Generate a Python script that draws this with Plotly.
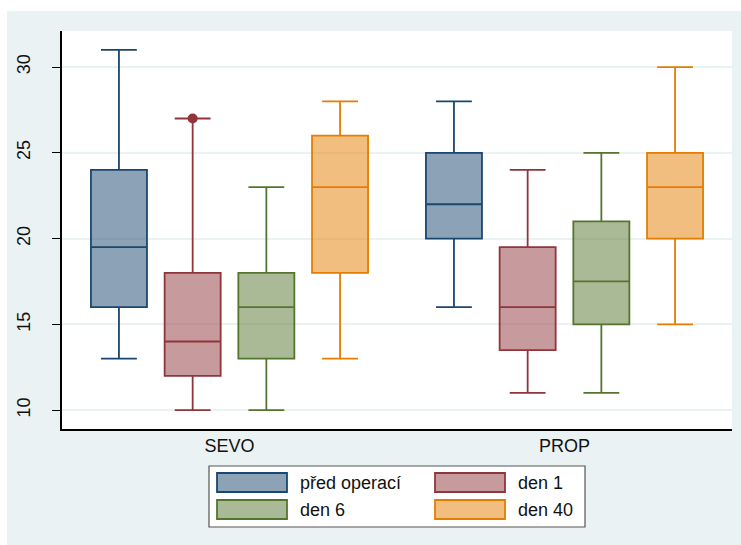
import plotly.graph_objects as go

# Box statistics per time point (groups: SEVO, PROP)
groups = ["SEVO", "PROP"]
series = ["před operací", "den 1", "den 6", "den 40"]

lower = {
    "před operací": [13, 16],
    "den 1": [10, 11],
    "den 6": [10, 11],
    "den 40": [13, 15],
}
q1 = {
    "před operací": [16, 20],
    "den 1": [12, 13.5],
    "den 6": [13, 15],
    "den 40": [18, 20],
}
median = {
    "před operací": [19.5, 22],
    "den 1": [14, 16],
    "den 6": [16, 17.5],
    "den 40": [23, 23],
}
q3 = {
    "před operací": [24, 25],
    "den 1": [18, 19.5],
    "den 6": [18, 21],
    "den 40": [26, 25],
}
upper = {
    "před operací": [31, 28],
    "den 1": [27, 24],
    "den 6": [23, 25],
    "den 40": [28, 30],
}
# outside values: (series, group index, value)
outliers = [("den 1", 0, 27)]

line_colors = {
    "před operací": "#1A476F",
    "den 1": "#90353B",
    "den 6": "#55752F",
    "den 40": "#E37E00",
}


def rgba(hex_color, a):
    h = hex_color.lstrip("#")
    r, g, b = int(h[0:2], 16), int(h[2:4], 16), int(h[4:6], 16)
    return f"rgba({r},{g},{b},{a})"


BOXGAP = 0.12
BOXGROUPGAP = 0.24
BG = "#EAF2F3"
FONT = "Liberation Sans, Arial, sans-serif"

fig = go.Figure()
xpos = list(range(len(groups)))
for s in series:
    c = line_colors[s]
    fig.add_trace(go.Box(
        name=s,
        x=xpos,
        q1=q1[s], median=median[s], q3=q3[s],
        lowerfence=lower[s], upperfence=upper[s],
        line=dict(color=c, width=1.8),
        fillcolor=rgba(c, 0.5),
        whiskerwidth=0.64,
        boxpoints=False,
        hoverinfo="skip",
        showlegend=False,
    ))

# outside values, placed at the grouped box offset
n = len(series)
for s, gi, v in outliers:
    i = series.index(s)
    off = (1 - BOXGAP) * (-0.5 + (i + 0.5) / n)
    fig.add_trace(go.Scatter(
        x=[gi + off], y=[v], mode="markers",
        marker=dict(color=line_colors[s], size=10, line=dict(width=0)),
        showlegend=False, hoverinfo="skip",
    ))

# page geometry (pixels)
W, H = 741, 545
ML, MR, MT, MB = 62, 9, 31, 116
PW, PH = W - ML - MR, H - MT - MB


def px(x):
    return (x - ML) / PW


def py(y):
    return (H - MB - y) / PH


shapes = []
annotations = []

# white page edge at top and left
shapes.append(dict(type="rect", xref="paper", yref="paper", layer="below",
                   x0=px(-2), x1=px(W + 2), y0=py(11), y1=py(-2),
                   fillcolor="white", line=dict(width=0)))
shapes.append(dict(type="rect", xref="paper", yref="paper", layer="below",
                   x0=px(-2), x1=px(7), y0=py(H + 2), y1=py(-2),
                   fillcolor="white", line=dict(width=0)))

# legend frame
shapes.append(dict(type="rect", xref="paper", yref="paper",
                   x0=px(209), x1=px(585), y0=py(527), y1=py(466),
                   fillcolor="white", line=dict(color="#555555", width=1.2)))

legend_slots = [
    (217, 473),  # před operací
    (435, 473),  # den 1
    (217, 500),  # den 6
    (435, 500),  # den 40
]
for s, (lx, ly) in zip(series, legend_slots):
    c = line_colors[s]
    shapes.append(dict(type="rect", xref="paper", yref="paper",
                       x0=px(lx), x1=px(lx + 70), y0=py(ly + 19), y1=py(ly),
                       fillcolor=rgba(c, 0.5), line=dict(color=c, width=1.8)))
    annotations.append(dict(xref="paper", yref="paper", x=px(lx + 81), y=py(ly + 10),
                            text=s, showarrow=False, xanchor="left", yanchor="middle",
                            font=dict(size=18, color="#111111", family=FONT)))

fig.update_layout(
    width=W, height=H,
    margin=dict(l=ML, r=MR, t=MT, b=MB, pad=0),
    paper_bgcolor=BG,
    plot_bgcolor="white",
    boxmode="group",
    boxgap=BOXGAP,
    boxgroupgap=BOXGROUPGAP,
    showlegend=False,
    font=dict(family=FONT, size=17, color="#111111"),
    xaxis=dict(
        range=[-0.5, 1.5],
        tickvals=xpos, ticktext=groups,
        showgrid=False, zeroline=False,
        showline=True, linecolor="black", linewidth=1.5,
        ticks="", tickfont=dict(size=18),
    ),
    yaxis=dict(
        range=[8.9, 32.1],
        tickvals=[10, 15, 20, 25, 30],
        tickangle=-90,
        showgrid=True, gridcolor=BG, gridwidth=1.5,
        zeroline=False,
        showline=True, linecolor="black", linewidth=1.5,
        ticks="outside", ticklen=8, tickcolor="black", tickwidth=1.2,
        tickfont=dict(size=18),
        ticklabelstandoff=15,
    ),
    shapes=shapes,
    annotations=annotations,
)

fig.write_html("out.html")
